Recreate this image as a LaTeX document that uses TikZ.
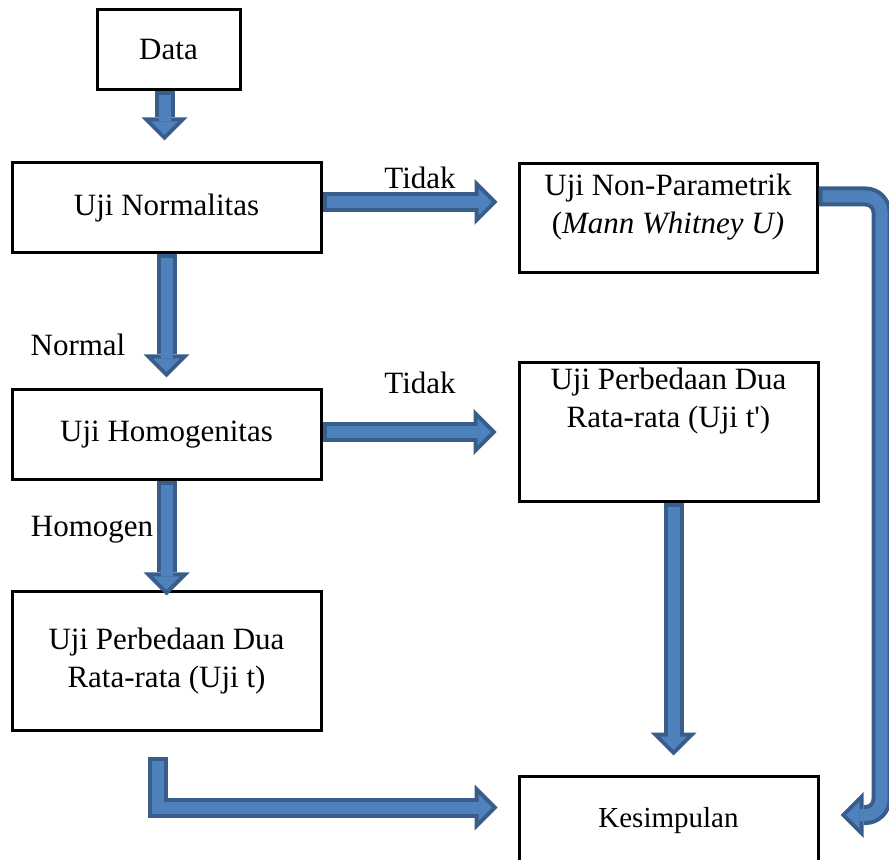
\documentclass[tikz,border=0pt]{standalone}
\usepackage{fontspec}
\setmainfont{Liberation Serif}
\usetikzlibrary{arrows.meta,calc}
\definecolor{arrfill}{HTML}{4F81BD}
\definecolor{arrline}{HTML}{385D8A}
\begin{document}
\begin{tikzpicture}[x=0.5pt, y=-0.5pt, font=\fontsize{15.5}{19}\selectfont,
  box/.style={draw, line width=1.5pt, minimum width=154.5pt, minimum height=45pt, inner sep=0pt, align=center},
  arr/.style={draw=arrfill, line width=6pt, shorten >=2.83pt, shorten <=2pt,
    -{Triangle[width=13.3pt, length=6.67pt, line width=0pt]},
    preaction={draw=arrline, line width=10pt, shorten >=0pt, shorten <=0pt,
      -{Triangle[width=23pt, length=11.5pt, line width=0pt]}}}]
  \useasboundingbox (0,0) rectangle (889,860);
  % 左列
  \node[box, minimum width=71.5pt, minimum height=40pt] (data) at (168.5,50) {Data};
  \node[box] (norm) at (166.5,208) {Uji Normalitas};
  \node[box] (homog) at (166.5,435) {Uji Homogenitas};
  \node[box, minimum height=69pt] (ujit) at (166.5,661) {Uji Perbedaan Dua\\Rata-rata (Uji t)};
  % 右列
  \node[box, minimum width=149pt, minimum height=54.5pt] (nonpar) at (668,218.5) {};
  \node[align=center] (nonpartxt) at ($(nonpar.north)+(0,45)$) {Uji Non-Parametrik\\(\textit{Mann Whitney U)}};
  \node[box, minimum width=149.5pt, minimum height=69.5pt] (pbd2) at (668.5,432.5) {};
  \node[align=center] (pbd2txt) at ($(pbd2.north)+(0,40)$) {Uji Perbedaan Dua\\Rata-rata (Uji t\textquotesingle)};
  \node[box, minimum width=149.5pt, font=\fontsize{14.5}{17.5}\selectfont] (kesimp) at (668.5,821) {Kesimpulan};
  % 标签
  \node (tidak1) at (420,178) {Tidak};
  \node (tidak2) at (420,383) {Tidak};
  \node (normal) at (78,345) {Normal};
  \node (homogen) at (92,530) {Homogen};
  % 箭头
  \draw[arr] ($(data.south)+(-4,0)$) -- ($(norm.north)+(-2,-21)$);
  \draw[arr] ($(norm.east)+(0,-6)$) -- ($(nonpar.west)+(-20,-16.5)$);
  \draw[arr] (norm.south) -- ($(homog.north)+(0,-11)$);
  \draw[arr] ($(homog.east)+(0,-3)$) -- ($(pbd2.west)+(-21,-0.5)$);
  \draw[arr] (homog.south) -- ($(ujit.north)+(0,5)$);
  \draw[arr] ($(pbd2.south)+(5,0)$) -- ($(kesimp.north)+(5,-19)$);
  % 折线箭头
  \coordinate (lstart) at ($(ujit.south)+(-9,25)$);
  \coordinate (lend) at ($(kesimp.west)+(-20,-13.5)$);
  \draw[arr] (lstart) |- (lend);
  \coordinate (rstart) at ($(nonpar.north east)+(0,34)$);
  \coordinate (rend) at ($(kesimp.east)+(21,-6)$);
  \draw[arr, rounded corners=8pt] (rstart) -| ($(rend)+(41,0)$) -- (rend);
\end{tikzpicture}
\end{document}
